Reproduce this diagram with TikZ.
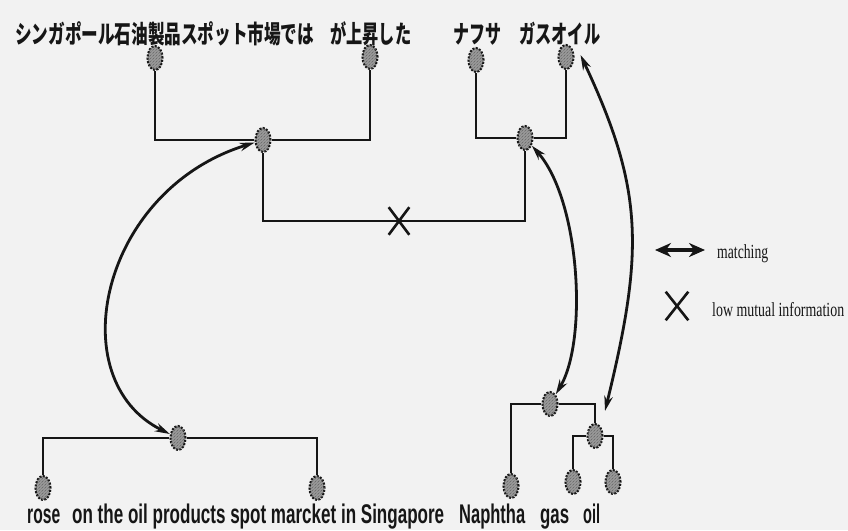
\documentclass[tikz,border=0pt]{standalone}
\usepackage{fontspec}
\usepackage{graphicx}
\usetikzlibrary{shapes.geometric,shapes.misc,arrows.meta,patterns}
\newfontfamily\jpfont{Noto Sans CJK JP}
\newfontfamily\ensans{Liberation Sans}
\newfontfamily\enserif{Liberation Serif}
\newcommand{\myfit}[2]{\resizebox{#1}{\height}{#2}}
\definecolor{ink}{HTML}{161616}
\definecolor{bgc}{HTML}{F2F2F2}
\definecolor{blobfill}{HTML}{9A9A9A}
\tikzset{
  blob/.style={ellipse, draw=ink, fill=blobfill, line width=2.1pt,
    dash pattern=on 2pt off 1.4pt, minimum width=15pt, minimum height=24pt,
    inner sep=0pt, postaction={pattern=north east lines, pattern color=black!60}},
  tree/.style={draw=ink, line width=2.2pt},
  match/.style={draw=ink, line width=2.8pt,
    arrows={Stealth[length=15pt,width=8.5pt]-Stealth[length=15pt,width=8.5pt]}},
  xmarkstyle/.style={cross out, draw=ink, line width=2.6pt, inner sep=0pt},
  jptext/.style={anchor=west, inner sep=0pt, text=ink, font=\jpfont\bfseries\fontsize{25}{25}\selectfont},
  entext/.style={anchor=base west, inner sep=0pt, text=ink, font=\ensans\bfseries\fontsize{27}{27}\selectfont},
  legtext/.style={anchor=base west, inner sep=0pt, text=ink, font=\enserif\fontsize{20}{20}\selectfont}
}
\begin{document}
\begin{tikzpicture}[x=1pt,y=-1pt]
\useasboundingbox (0,0) rectangle (848,530);
\fill[bgc] (0,0) rectangle (848,530);

% Japanese words
\node[jptext] (jp1) at (15,34) {\myfit{299pt}{シンガポール石油製品スポット市場では}};
\node[jptext] (jp2) at (330,34) {\myfit{81pt}{が上昇した}};
\node[jptext] (jp3) at (453,34) {\myfit{48pt}{ナフサ}};
\node[jptext] (jp4) at (519,34) {\myfit{81pt}{ガスオイル}};

% English words
\node[entext] (en1) at (27,523) {\myfit{33pt}{rose}};
\node[entext] (en2) at (72,523) {\myfit{372pt}{on the oil products spot marcket in Singapore}};
\node[entext] (en3) at (459,523) {\myfit{66pt}{Naphtha}};
\node[entext] (en4) at (540,523) {\myfit{29pt}{gas}};
\node[entext] (en5) at (583,523) {\myfit{17pt}{oil}};

% Japanese tree
\node[blob] (a1) at (155,58) {};
\node[blob] (a2) at (370,57) {};
\node[blob] (a12) at (263,140) {};
\node[blob] (n1) at (476,60) {};
\node[blob] (n2) at (566,57) {};
\node[blob] (n12) at (525,138) {};
\node[xmarkstyle, minimum width=18pt, minimum height=25pt] (xmark) at (399,221) {};

\draw[tree] (a1) |- (a12);
\draw[tree] (a12) -| (a2);
\draw[tree] (n1) |- (n12);
\draw[tree] (n12) -| (n2);
\draw[tree] (a12) |- (xmark.center) -| (n12);

% English tree
\node[blob] (e12) at (178,438) {};
\node[blob] (rose) at (43,488) {};
\node[blob] (spot) at (317,488) {};
\node[blob] (nb) at (550,404) {};
\node[blob] (naph) at (511,486) {};
\node[blob] (go) at (595,436) {};
\node[blob] (gas) at (573,482) {};
\node[blob] (oil) at (613,482) {};

\draw[tree] (rose) |- (e12);
\draw[tree] (e12) -| (spot);
\draw[tree] (naph) |- (nb);
\draw[tree] (nb) -| (go);
\draw[tree] (gas) |- (go);
\draw[tree] (go) -| (oil);

% matching arrows
\draw[match] (e12) .. controls (60,380) and (100,190) .. (a12);
\draw[match] (n12) .. controls (580,200) and (588,340) .. (nb);
\draw[match] ([xshift=6pt,yshift=2pt]n2.east) .. controls (644,190) and (644,251) .. ([xshift=10pt,yshift=12pt]go.north);

% legend
\coordinate (lgl) at (655,250);
\coordinate (lgr) at (705,250);
\draw[draw=ink, line width=4pt, arrows={Stealth[length=16pt,width=14pt]-Stealth[length=16pt,width=14pt]}] (lgl) -- (lgr);
\node[legtext] (lgm) at (717,258) {\myfit{51pt}{matching}};
\node[xmarkstyle, minimum width=20pt, minimum height=26pt] (lgx) at (677,306) {};
\node[legtext] (lgi) at (712,316) {\myfit{132pt}{low mutual information}};
\end{tikzpicture}
\end{document}
